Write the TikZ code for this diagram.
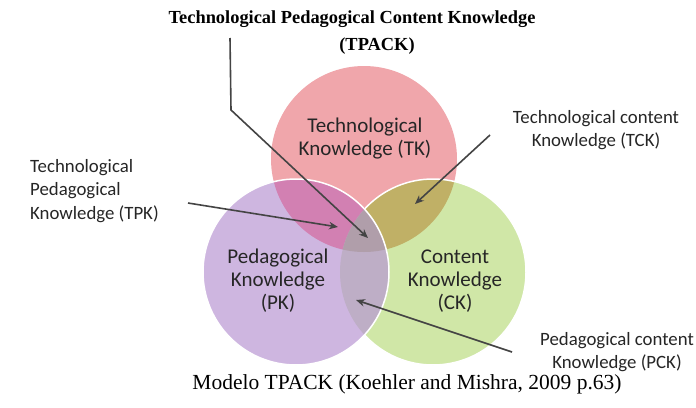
\documentclass[tikz,border=0pt]{standalone}
\usepackage{fontspec}
\setmainfont{Liberation Serif}
\newfontfamily\labelfont{Carlito}
\usetikzlibrary{arrows.meta}
\definecolor{TKPink}{RGB}{240,166,171}
\definecolor{PKLilac}{RGB}{206,182,224}
\definecolor{CKGreen}{RGB}{208,231,167}
\definecolor{TPKMagenta}{RGB}{210,128,178}
\definecolor{TCKOlive}{RGB}{192,176,102}
\definecolor{PCKGray}{RGB}{190,174,198}
\definecolor{TPACKGray}{RGB}{176,158,170}
\definecolor{ArrowGray}{RGB}{68,68,68}

\begin{document}
\begin{tikzpicture}[x=1pt, y=-1pt,
  circlab/.style={font=\labelfont\fontsize{21}{23}\selectfont, align=center, inner sep=0pt, text=black!85},
  outlab/.style={font=\labelfont\fontsize{18.8}{23.5}\selectfont, align=center, inner sep=0pt, text=black!85},
  pointer/.style={draw=ArrowGray, line width=1.6pt, -{Stealth[length=9pt,width=7.5pt]}}]
  \useasboundingbox (0,0) rectangle (696,407);
  \fill[white] (0,0) rectangle (696,407);
  % circle centres
  \coordinate (tk) at (364,159);
  \coordinate (pk) at (296,272);
  \coordinate (ck) at (433,272);
  \def\circrad{93}
  % TK and CK
  \fill[TKPink] (tk) circle (\circrad);
  \fill[CKGreen] (ck) circle (\circrad);
  \begin{scope}
    \clip (tk) circle (\circrad);
    \fill[TCKOlive] (ck) circle (\circrad);
  \end{scope}
  \draw[white, line width=1.5pt] (ck) circle (\circrad);
  % PK on top
  \fill[PKLilac] (pk) circle (\circrad);
  \begin{scope}
    \clip (pk) circle (\circrad);
    \fill[TPKMagenta] (tk) circle (\circrad);
    \fill[PCKGray] (ck) circle (\circrad);
    \clip (tk) circle (\circrad);
    \fill[TPACKGray] (ck) circle (\circrad);
  \end{scope}
  \draw[white, line width=1.5pt] (pk) circle (\circrad);

  % titles
  \node[font=\bfseries\fontsize{18.4}{22}\selectfont, inner sep=0pt] (title) at (352,19) {Technological Pedagogical Content Knowledge};
  \node[font=\bfseries\fontsize{18.4}{22}\selectfont, inner sep=0pt] (tpack) at (377,46) {(TPACK)};
  \node[font=\fontsize{21.5}{24}\selectfont, inner sep=0pt] (caption) at (407,384) {Modelo TPACK (Koehler and Mishra, 2009 p.63)};

  % labels
  \node[circlab] (tklab) at (365,139) {Technological\\Knowledge (TK)};
  \node[circlab] (pklab) at (278,281) {Pedagogical\\Knowledge\\(PK)};
  \node[circlab] (cklab) at (455,281) {Content\\Knowledge\\(CK)};
  \node[outlab] (tcklab) at (596,130) {Technological content\\Knowledge (TCK)};
  \node[outlab] (pcklab) at (617,352) {Pedagogical content\\Knowledge (PCK)};
  \node[outlab, align=left, anchor=west] (tpklab) at (30,191) {Technological\\Pedagogical\\Knowledge (TPK)};

  % pointers
  \coordinate (tpack-tail) at (230,38);
  \coordinate (tpack-bend) at (231,110);
  \coordinate (tpack-tip) at (368,238);
  \coordinate (tpk-tail) at (188,203);
  \coordinate (tpk-tip) at (338,227);
  \coordinate (tck-tail) at (490,135);
  \coordinate (tck-tip) at (415,204);
  \coordinate (pck-tail) at (512,352);
  \coordinate (pck-tip) at (356,300);
  \draw[pointer] (tpack-tail) -- (tpack-bend) -- (tpack-tip);
  \draw[pointer] (tpk-tail) -- (tpk-tip);
  \draw[pointer] (tck-tail) -- (tck-tip);
  \draw[pointer] (pck-tail) -- (pck-tip);
\end{tikzpicture}
\end{document}
